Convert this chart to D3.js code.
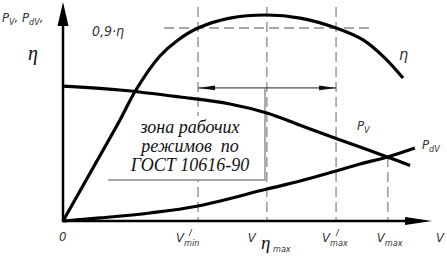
<!DOCTYPE html>
<html>
<head>
<meta charset="utf-8">
<script src="https://cdn.jsdelivr.net/npm/d3@7"></script>
<style>
  body { margin: 0; background: #fff; }
  .lbl { font-family: "Liberation Sans Narrow", "DejaVu Sans Condensed", sans-serif; font-style: italic; fill: #333; }
  .serif { font-family: "Liberation Serif", "DejaVu Serif", serif; font-style: italic; fill: #111; }
</style>
</head>
<body>
<div class="container"></div>
<script>
// efficiency curve (eta), % of max
const etaV = [0, 8.1, 15.4, 19.7, 26.2, 31.1, 36.5, 45.1, 55.1, 64.1, 73.8, 81.1, 87, 91.9]
const etaY = [0, 25.7, 49, 63.6, 80.1, 87.9, 93.7, 98.5, 100, 98.5, 93.7, 87.9, 79.1, 69.4]

// P_V curve
const pvV = [0, 15.4, 31.6, 45.1, 55.1, 64.1, 73.8, 80.3, 87.8, 93.8]
const pvY = [65.5, 63.6, 60.2, 56.8, 52.4, 46.5, 40.1, 35.9, 31.0, 27.0]

// P_dV curve
const pdvV = [0, 10, 23.5, 36.5, 55.1, 64.1, 73.8, 80.3, 87.8, 95.1]
const pdvY = [0, 1.5, 3.9, 7.3, 15.5, 19.4, 24.3, 27.7, 31.1, 35.4]

// marked speeds on the V axis
const tickNames = ['Vmin1', 'Veta', 'Vmax1', 'Vmax']
const tickVals = [36.5, 55.1, 73.8, 87.8]
const level09 = 93.7   // 0,9·eta level
const zoneY = 64.6     // dimension line of the working zone

const W = 447, H = 259

const svg = d3.select('.container')
  .append('svg')
  .attr('width', W)
  .attr('height', H)

const x = d3.scaleLinear().domain([0, 100]).range([63, 433])
const y = d3.scaleLinear().domain([0, 100]).range([221, 15])

const line = d3.line()
  .x(d => x(d[0]))
  .y(d => y(d[1]))
  .curve(d3.curveCatmullRom.alpha(0.5))

const zip = (a, b) => a.map((v, i) => [v, b[i]])

// dashed helper lines
const dash = svg.append('g')
  .attr('stroke', '#8a8a8a')
  .attr('stroke-width', 1.3)
  .attr('stroke-dasharray', '10,5')
  .attr('fill', 'none')

tickVals.forEach((v, i) => {
  dash.append('line')
    .attr('x1', x(v)).attr('x2', x(v))
    .attr('y1', i < 3 ? 7 : y(31.1))
    .attr('y2', y(0))
})
dash.append('line')
  .attr('x1', x(27.3)).attr('x2', x(82.7))
  .attr('y1', y(level09)).attr('y2', y(level09))

// dimension line with arrows
svg.append('line')
  .attr('x1', x(tickVals[0])).attr('x2', x(tickVals[2]))
  .attr('y1', y(zoneY)).attr('y2', y(zoneY))
  .attr('stroke', '#222').attr('stroke-width', 1)

const arrowHead = (tx, ty, dir, len, hw) =>
  `M${tx},${ty}L${tx + dir * len},${ty - hw}L${tx + dir * len},${ty + hw}Z`

svg.append('path').attr('d', arrowHead(x(tickVals[0]), y(zoneY), 1, 17, 2.3)).attr('fill', '#111')
svg.append('path').attr('d', arrowHead(x(tickVals[2]), y(zoneY), -1, 17, 2.3)).attr('fill', '#111')

// text box for the working zone
svg.append('rect')
  .attr('x', 108).attr('y', 116)
  .attr('width', 156).attr('height', 64)
  .attr('fill', '#fff')

svg.append('path')
  .attr('d', `M108,180H265V${y(zoneY)}`)
  .attr('fill', 'none')
  .attr('stroke', '#8a8a8a')
  .attr('stroke-width', 1.4)

const zoneText = ['зона рабочих', 'режимов  по', 'ГОСТ 10616-90']
zoneText.forEach((t, i) => {
  svg.append('text')
    .attr('class', 'serif')
    .attr('x', 190)
    .attr('y', 133 + i * 19)
    .attr('text-anchor', 'middle')
    .attr('font-size', 18)
    .style('white-space', 'pre')
    .text(t)
})

// curves
svg.append('path').attr('d', line(zip(pvV, pvY)))
  .attr('fill', 'none').attr('stroke', '#000').attr('stroke-width', 3.2)
svg.append('path').attr('d', line(zip(pdvV, pdvY)))
  .attr('fill', 'none').attr('stroke', '#000').attr('stroke-width', 3.2)
svg.append('path').attr('d', line(zip(etaV, etaY)))
  .attr('fill', 'none').attr('stroke', '#000').attr('stroke-width', 3.2)

// axes
svg.append('line')
  .attr('x1', x(0)).attr('x2', x(0))
  .attr('y1', y(0) + 1).attr('y2', 22)
  .attr('stroke', '#000').attr('stroke-width', 2.5)
svg.append('line')
  .attr('x1', x(0) - 1).attr('x2', 412)
  .attr('y1', y(0)).attr('y2', y(0))
  .attr('stroke', '#000').attr('stroke-width', 2.5)
svg.append('path').attr('d', `M${x(0)},2L${x(0) + 5.5},26L${x(0) - 5.5},26Z`).attr('fill', '#000')
svg.append('path').attr('d', `M432,${y(0)}L405,${y(0) - 4}L405,${y(0) + 4}Z`).attr('fill', '#000')

// labels
const lbl = (px, py, parts, size) => {
  const t = svg.append('text').attr('class', 'lbl')
    .attr('x', px).attr('y', py).attr('font-size', size || 13)
  parts.forEach(p => {
    const s = t.append('tspan').text(p.t)
    if (p.size) s.attr('font-size', p.size)
    if (p.dy) s.attr('dy', p.dy)
    if (p.dx) s.attr('dx', p.dx)
  })
  return t
}

lbl(2, 22, [{t: 'P'}, {t: 'V', size: 9, dy: 3}, {t: ', P', dy: -3}, {t: 'dV', size: 9, dy: 3}, {t: ',', dy: -3}])
svg.append('text').attr('class', 'serif').attr('x', 28).attr('y', 60).attr('font-size', 20).text('η')
lbl(92, 36, [{t: '0,9·η'}], 14)
lbl(399, 60, [{t: 'η'}], 16)
lbl(357, 130, [{t: 'P'}, {t: 'V', size: 9, dy: 3}])
lbl(422, 149, [{t: 'P'}, {t: 'dV', size: 9, dy: 3}])
lbl(59, 241, [{t: '0'}])

const tickLabels = {
  Vmin1: [{t: 'V'}, {t: 'min', size: 9, dy: 4}],
  Veta: [{t: 'V'}],
  Vmax1: [{t: 'V'}, {t: 'max', size: 9, dy: 4}],
  Vmax: [{t: 'V'}, {t: 'max', size: 9, dy: 4}]
}
const tickOff = [-22, -19, -14, -11]
const primeOff = [-8, null, 1, null]
tickNames.forEach((n, i) => {
  lbl(x(tickVals[i]) + tickOff[i], 242, tickLabels[n])
  if (primeOff[i] !== null) {
    const px = x(tickVals[i]) + primeOff[i]
    svg.append('line')
      .attr('x1', px + 2).attr('y1', 229)
      .attr('x2', px - 1).attr('y2', 236)
      .attr('stroke', '#444').attr('stroke-width', 0.9)
  }
})
svg.append('text').attr('class', 'serif').attr('x', 261).attr('y', 249).attr('font-size', 19).text('η')
lbl(273, 252, [{t: 'max', size: 9}])
lbl(436, 242, [{t: 'V'}])
</script>
</body>
</html>
